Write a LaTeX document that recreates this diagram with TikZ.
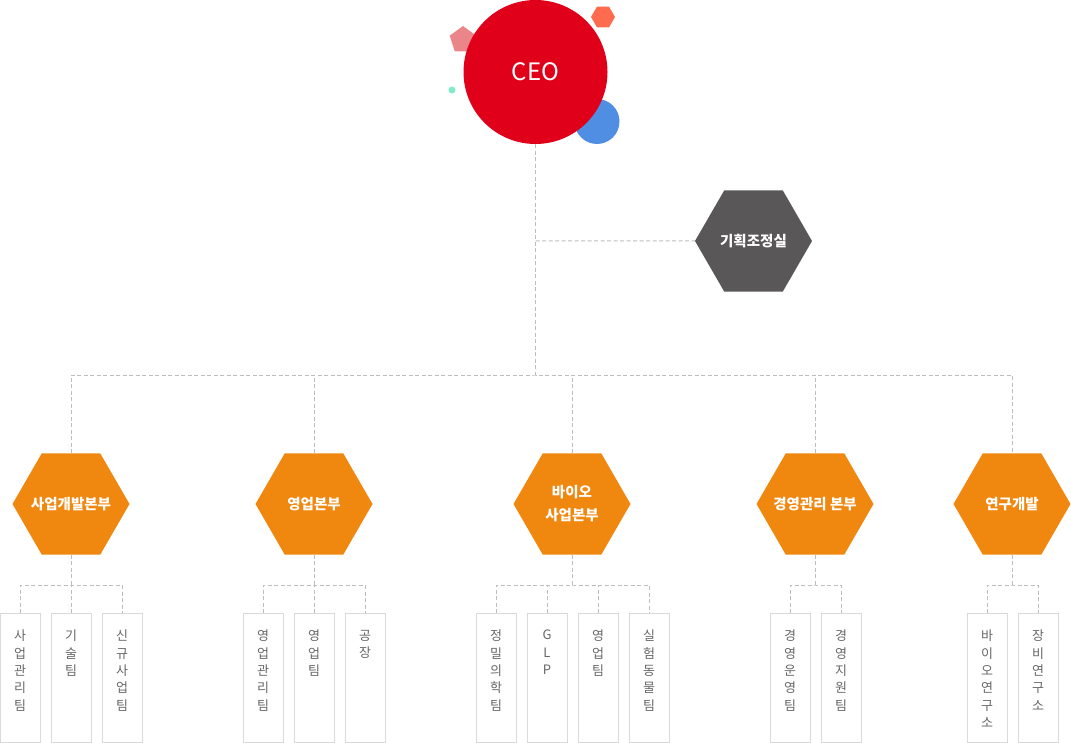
\documentclass[tikz,border=0pt]{standalone}
\usepackage{fontspec}
\setmainfont{Noto Sans CJK KR}
\usepackage{xcolor}
\usepackage{tikz}
\usetikzlibrary{shapes.geometric}
\definecolor{ceored}{HTML}{E1001A}
\definecolor{hexorange}{HTML}{F0870F}
\definecolor{hexgrey}{HTML}{595758}
\definecolor{linegrey}{HTML}{BDBDBD}
\definecolor{boxline}{HTML}{D9D9D9}
\definecolor{boxtext}{HTML}{666666}
\definecolor{dotblue}{HTML}{4F8EE2}
\definecolor{dotpink}{HTML}{EA868A}
\definecolor{dotcoral}{HTML}{FF6B4F}
\definecolor{dotmint}{HTML}{80EAC9}
\newcommand{\stackcol}[1]{\parbox[c][129pt][t]{38pt}{\centering\vskip16.5pt #1}}
\newcommand{\hexname}[1]{\makebox[0pt]{#1}}

\begin{document}
\begin{tikzpicture}[x=1pt,y=-1pt,
    conn/.style={draw=linegrey, line width=1pt, dash pattern=on 4pt off 2.5pt},
    hexa/.style={regular polygon, regular polygon sides=6, minimum size=117pt,
      inner sep=0pt, text=white, align=center,
      font=\fontsize{14.5pt}{23pt}\selectfont\bfseries},
    unit/.style={hexa, fill=hexorange},
    staff/.style={hexa, fill=hexgrey},
    team/.style={draw=boxline, line width=1pt, anchor=north, minimum width=40pt,
      inner sep=0pt, text=boxtext, font=\fontsize{13pt}{17.4pt}\selectfont}]
    \useasboundingbox (0,0) rectangle (1071,743);
    \fill[dotblue] (597,121.5) circle (22.5pt);
    \node[regular polygon, regular polygon sides=5, minimum size=28pt,
      inner sep=0pt, fill=dotpink] (pent) at (463,40) {};
    \node[regular polygon, regular polygon sides=6, minimum size=24pt,
      inner sep=0pt, fill=dotcoral] (hexdot) at (603,17) {};
    \fill[dotmint] (452,90) circle (3.5pt);
    \node[circle, fill=ceored, minimum size=144pt, inner sep=0pt, text=white,
      font=\fontsize{24pt}{28pt}\selectfont] (ceo) at (535.5,72) {CEO};
    \node[staff] (plan) at (753.5,241) {\hexname{기획조정실}};
    \node[unit] (h1) at (71,504) {\hexname{사업개발본부}};
    \node[unit] (h2) at (314,504) {\hexname{영업본부}};
    \node[unit] (h3) at (572,504) {바이오\\사업본부};
    \node[unit] (h4) at (815,504) {\hexname{경영관리 본부}};
    \node[unit] (h5) at (1012,504) {\hexname{연구개발}};
    \coordinate (mid) at (535.5,241);
    \coordinate (bus) at (535.5,375);
    \draw[conn] (ceo) -- (bus);
    \draw[conn] (mid) -- (plan);
    \draw[conn] (h1) |- (bus) -| (h5);
    \draw[conn] (h2) -- (h2 |- bus);
    \draw[conn] (h3) -- (h3 |- bus);
    \draw[conn] (h4) -- (h4 |- bus);
    \node[team] (b11) at (20,613) {\stackcol{사\\업\\관\\리\\팀}};
    \node[team] (b12) at (71,613) {\stackcol{기\\술\\팀}};
    \node[team] (b13) at (122,613) {\stackcol{신\\규\\사\\업\\팀}};
    \node[team] (b21) at (263,613) {\stackcol{영\\업\\관\\리\\팀}};
    \node[team] (b22) at (314,613) {\stackcol{영\\업\\팀}};
    \node[team] (b23) at (365,613) {\stackcol{공\\장}};
    \node[team] (b31) at (496,613) {\stackcol{정\\밀\\의\\학\\팀}};
    \node[team] (b32) at (547,613) {\stackcol{G\\L\\P}};
    \node[team] (b33) at (598,613) {\stackcol{영\\업\\팀}};
    \node[team] (b34) at (649,613) {\stackcol{실\\험\\동\\물\\팀}};
    \node[team] (b41) at (790,613) {\stackcol{경\\영\\운\\영\\팀}};
    \node[team] (b42) at (841,613) {\stackcol{경\\영\\지\\원\\팀}};
    \node[team] (b51) at (987,613) {\stackcol{바\\이\\오\\연\\구\\소}};
    \node[team] (b52) at (1038,613) {\stackcol{장\\비\\연\\구\\소}};
    \coordinate (s1) at (71,585);
    \coordinate (s2) at (314,585);
    \coordinate (s3) at (572,585);
    \coordinate (s4) at (815,585);
    \coordinate (s5) at (1012,585);
    \draw[conn] (h1) -- (s1);
    \draw[conn] (b11) |- (s1) -| (b13);
    \draw[conn] (b12) -- (s1);
    \draw[conn] (h2) -- (s2);
    \draw[conn] (b21) |- (s2) -| (b23);
    \draw[conn] (b22) -- (s2);
    \draw[conn] (h3) -- (s3);
    \draw[conn] (b31) |- (s3) -| (b34);
    \draw[conn] (b32) -- (b32 |- s3);
    \draw[conn] (b33) -- (b33 |- s3);
    \draw[conn] (h4) -- (s4);
    \draw[conn] (b41) |- (s4) -| (b42);
    \draw[conn] (h5) -- (s5);
    \draw[conn] (b51) |- (s5) -| (b52);
  \end{tikzpicture}
\end{document}
